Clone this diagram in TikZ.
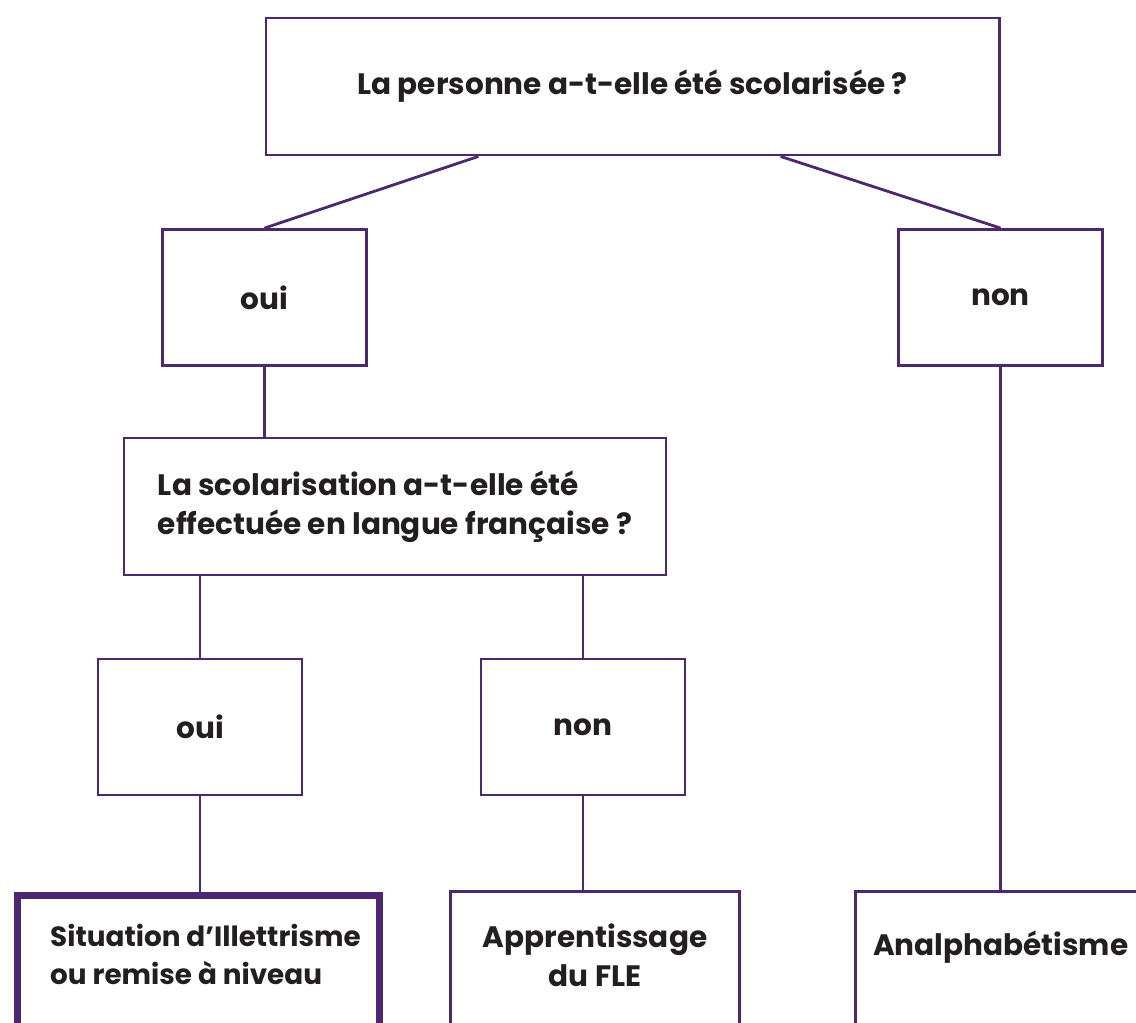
\documentclass[tikz,border=0pt]{standalone}
\usepackage{fontspec}
\setmainfont{Poppins}
\usetikzlibrary{positioning}
\definecolor{trait}{RGB}{75,40,112}
\definecolor{encre}{RGB}{35,31,32}

\begin{document}
\begin{tikzpicture}[x=0.025cm,y=-0.025cm,
	boite/.style={draw=trait, line width=0.07cm, text=encre, inner sep=0pt,
		font=\bfseries\fontsize{21}{27.5}\selectfont},
	petite/.style={boite, minimum width=5.1cm, minimum height=3.4cm},
	bas/.style={boite, anchor=north, minimum height=5cm},
	libelle/.style={text=encre, inner sep=0pt, align=center,
		font=\bfseries\fontsize{21}{27.5}\selectfont},
	lien/.style={draw=trait, line width=0.07cm}]
	\useasboundingbox (0,0) rectangle (1136,1023);
	\clip (0,0) rectangle (1136,1023);

	\node[boite, minimum width=18.325cm, minimum height=3.425cm] (haut) at (632.5,86.5) {La personne a-t-elle été scolarisée ?};
	\node[petite] (oui) at (264.5,297.5) {oui};
	\node[petite] (non) at (1000.5,297.5) {non};
	\node[boite, align=left, minimum width=13.55cm, minimum height=3.425cm] (langue) at (395,506.5) {La scolarisation a-t-elle été\\effectuée en langue française ?};
	\node[petite] (ouifr) at (200,727) {oui};
	\node[petite] (nonfr) at (583,727) {non};

	\node[bas, line width=0.175cm, minimum width=9.05cm] (illet) at (198.5,891.5) {};
	\node[bas, minimum width=7.225cm] (fle) at (595,890) {};
	\node[bas, minimum width=7.5cm] (analpha) at (1005.5,890) {};
	\node[libelle, align=left, font=\bfseries\fontsize{19.8}{27.5}\selectfont,
		below right=0.8cm and 0.9cm of illet.north west] (tillet) {Situation d’Illettrisme\\ou remise à niveau};
	\node[libelle, below=0.85cm of fle.north] (tfle) {Apprentissage\\du FLE};
	\node[libelle, below=1.02cm of analpha.north, xshift=-0.12cm] (tanalpha) {Analphabétisme};

	\draw[lien] ([xshift=-3.85cm]haut.south) -- (oui.north);
	\draw[lien] ([xshift=3.7cm]haut.south) -- (non.north);
	\draw[lien] (oui.south) -- (oui.south |- langue.north);
	\draw[lien] (ouifr.north |- langue.south) -- (ouifr.north);
	\draw[lien] (nonfr.north |- langue.south) -- (nonfr.north);
	\draw[lien] (ouifr.south) -- (ouifr.south |- illet.north);
	\draw[lien] (nonfr.south) -- (nonfr.south |- fle.north);
	\draw[lien] (non.south) -- (non.south |- analpha.north);
\end{tikzpicture}
\end{document}
